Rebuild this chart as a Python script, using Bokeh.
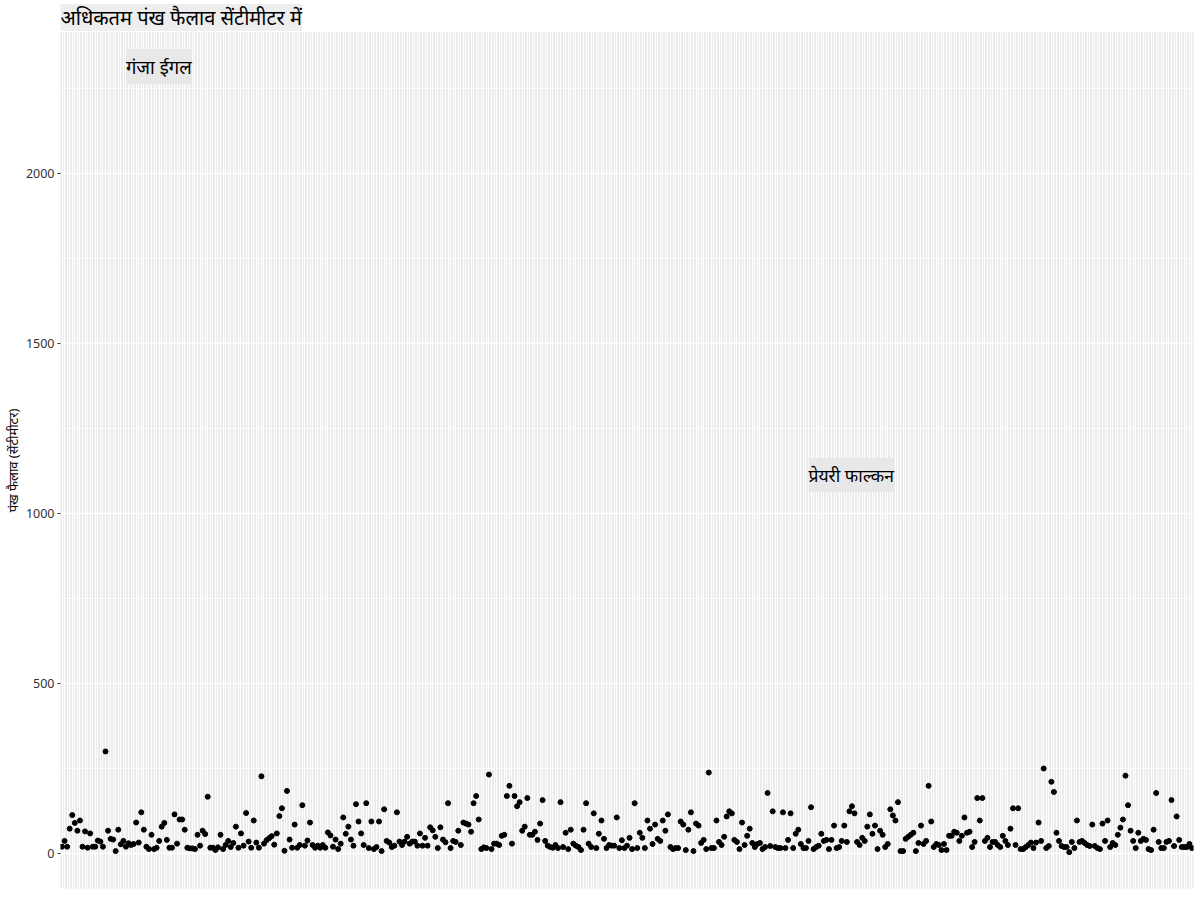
from bokeh.plotting import figure
from bokeh.models import Range1d, FixedTicker, Label
from bokeh.embed import file_html
from bokeh.resources import INLINE

title_text = "अधिकतम पंख फैलाव सेंटीमीटर में"
y_label = "पंख फैलाव (सेंटीमीटर)"
y_ticks = [0, 500, 1000, 1500, 2000]
y_minor_ticks = [250, 750, 1250, 1750, 2250]

max_wingspan = [
    20, 37, 20, 73, 113, 90, 67, 97, 20, 65, 17, 59, 20, 20, 38, 35, 20, 300,
    67, 43, 41, 7, 70, 27, 37, 20, 30, 25, 28, 91, 32, 121, 70, 20, 13, 55, 13,
    17, 37, 79, 90, 40, 17, 17, 115, 29, 100, 100, 70, 17, 15, 15, 13, 55, 23,
    67, 57, 167, 17, 17, 10, 18, 55, 13, 25, 37, 19, 31, 79, 17, 59, 23, 119,
    35, 17, 97, 32, 17, 227, 29, 39, 45, 51, 26, 59, 110, 133, 8, 184, 41, 17,
    85, 17, 25, 142, 23, 38, 91, 25, 17, 23, 17, 25, 17, 62, 53, 20, 41, 13, 29,
    106, 58, 79, 41, 23, 145, 94, 59, 25, 148, 16, 94, 13, 19, 94, 7, 130, 37,
    32, 19, 23, 121, 35, 25, 35, 49, 29, 35, 35, 23, 59, 23, 46, 23, 77, 68, 49,
    16, 77,
    41, 33, 148, 16, 37, 34, 67, 25, 91, 88, 85, 64, 148, 169, 100, 13, 18, 16,
    232, 13, 29, 29, 25, 52, 55, 169, 199, 29, 169, 139, 151, 67, 79, 163, 55,
    55, 64, 40, 88, 157, 37, 23, 19, 17, 25, 16, 151, 19, 61, 13, 70, 29, 23,
    19, 10, 70, 148, 29, 19, 118, 16, 58, 97, 43, 16, 25, 23, 23, 106, 16, 39,
    16, 23, 46,
    13, 148, 16, 61, 46, 16, 97, 73, 28, 85, 43, 37, 97, 67, 115, 19, 13, 16,
    16, 94, 85, 10, 70, 121, 7, 88, 82, 31, 40, 13, 238, 16, 16, 97, 34, 25, 49,
    109, 124, 118, 40, 34, 13, 91, 25, 52, 73, 31, 19, 28, 31, 13, 19, 178, 22,
    124, 19, 16, 16, 121, 16, 40, 118, 16, 58, 70, 28, 16, 16, 37, 136, 13, 19,
    23, 58, 37, 40, 13, 40, 82, 16, 19, 37, 82, 34, 124, 139, 118, 34, 25, 46,
    37, 79, 115, 58, 82, 13, 67, 55, 19, 28, 130, 112, 97, 151, 7, 7, 43, 49,
    55, 61, 7, 31, 82, 28, 37, 199, 94, 19, 28, 25, 10, 28, 10, 52, 52, 64, 61,
    37, 52, 106, 61, 64, 19, 34, 163, 97, 163, 37, 46, 19, 34, 34, 25, 19, 52,
    37, 25,
    73, 133, 25, 133, 13, 13, 19, 25, 32, 16, 32, 91, 37, 250, 16, 22, 211, 181,
    61, 37, 22, 19, 19, 4, 34, 16, 97, 34, 37, 31, 25, 22, 85, 22, 16, 13, 88,
    37, 97, 19, 31, 25, 55, 76, 100, 229, 142, 67, 37, 16, 61, 37, 43, 40, 13,
    10, 70, 178, 34, 16, 16, 34, 37, 157, 22, 109, 40, 19, 19, 19, 28, 16,
]

label_names = ["गंजा ईगल", "प्रेयरी फाल्कन"]
label_index = [26, 293]
label_values = [2290, 1090]
label_sizes = ["18.5px", "17.5px"]

n = len(max_wingspan)
bird_index = list(range(1, n + 1))

FONT = "Noto Sans"

p = figure(
    width=1200, height=900,
    output_backend="svg", toolbar_location=None,
    x_axis_location=None,
    x_range=Range1d(0.4, n + 0.6), y_range=Range1d(-103, 2415),
    min_border_left=60, min_border_right=7, min_border_top=32, min_border_bottom=12,
)

p.title.text = title_text
p.title.text_font = FONT
p.title.text_font_size = "20px"
p.title.text_font_style = "normal"
p.title.text_color = "black"
p.title.align = "left"
p.title.standoff = 3
p.title.background_fill_color = "#EEEEEE"

p.background_fill_color = "#EBEBEB"
p.border_fill_color = "white"
p.outline_line_color = None

p.xgrid.ticker = FixedTicker(ticks=bird_index)
p.xgrid.grid_line_color = "white"
p.xgrid.grid_line_width = 1

p.yaxis.ticker = FixedTicker(ticks=y_ticks, minor_ticks=y_minor_ticks)
p.ygrid.grid_line_color = "white"
p.ygrid.grid_line_width = 1.4
p.ygrid.minor_grid_line_color = "white"
p.ygrid.minor_grid_line_width = 0.8

p.yaxis.axis_line_color = None
p.yaxis.major_tick_line_color = "#333333"
p.yaxis.major_tick_out = 3
p.yaxis.major_tick_in = 0
p.yaxis.minor_tick_line_color = None
p.yaxis.major_label_text_font = FONT
p.yaxis.major_label_text_font_size = "12.5px"
p.yaxis.major_label_text_color = "#333333"
p.yaxis.major_label_standoff = 2
p.yaxis.axis_label = y_label
p.yaxis.axis_label_text_font = FONT
p.yaxis.axis_label_text_font_size = "13px"
p.yaxis.axis_label_text_font_style = "normal"
p.yaxis.axis_label_text_color = "black"
p.yaxis.axis_label_standoff = 1

p.scatter(bird_index, max_wingspan, size=5, color="black")

for name, xi, yv, fs in zip(label_names, label_index, label_values, label_sizes):
    p.add_layout(Label(
        x=xi, y=yv, text=name, y_offset=-9,
        text_font=FONT, text_font_size=fs, text_color="black",
        text_align="left", text_baseline="bottom",
        background_fill_color="#E8E8E8", padding=(0, 5),
    ))

open("out.html", "w").write(file_html(p, INLINE))
